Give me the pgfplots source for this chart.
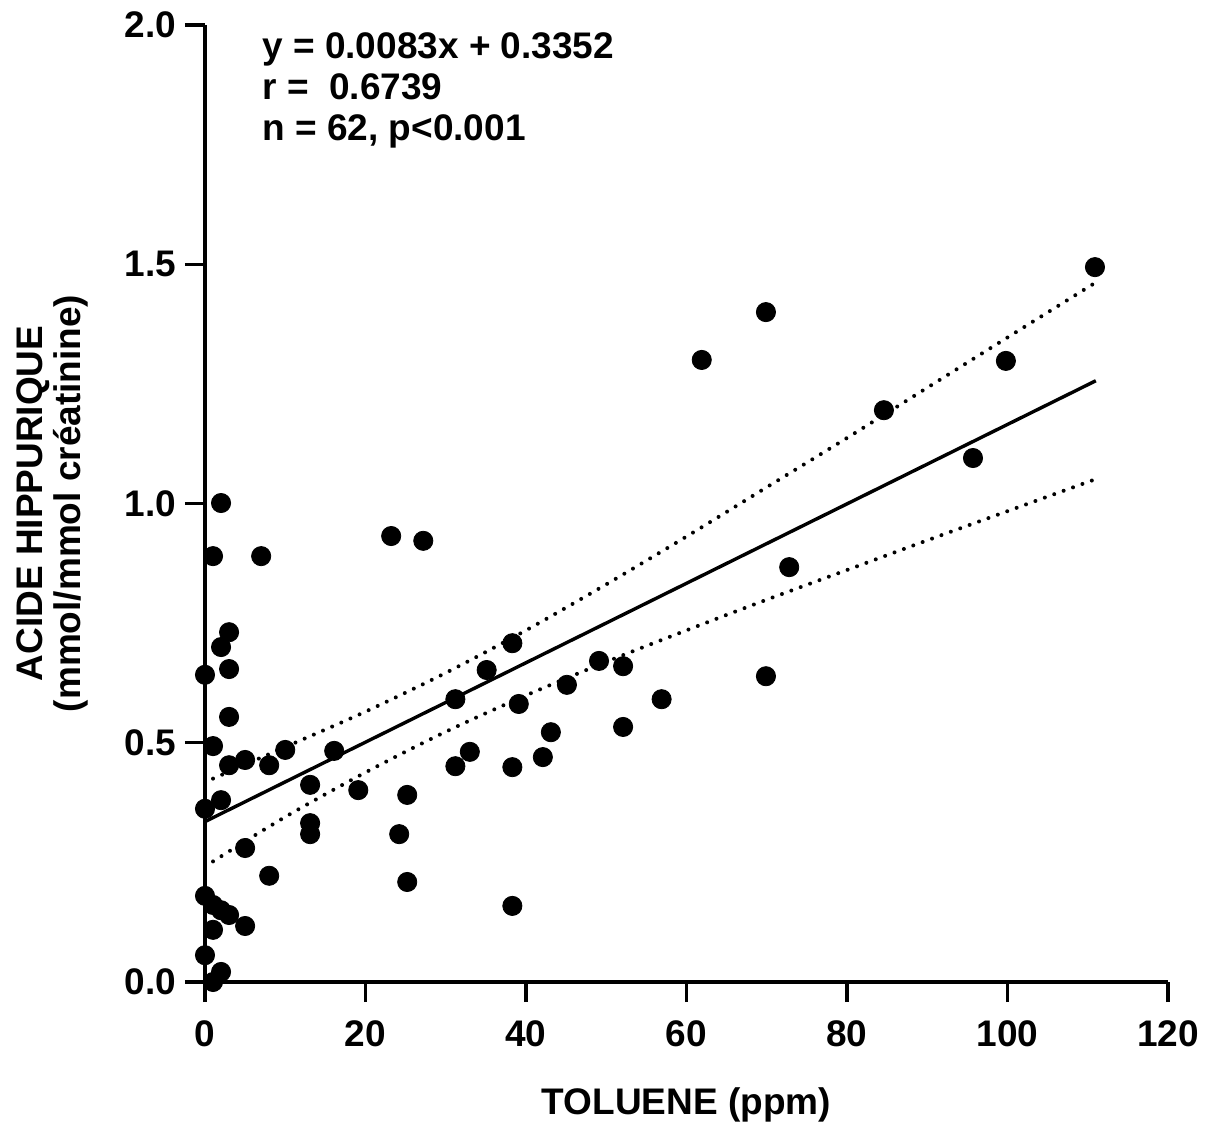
\documentclass[border=0pt]{standalone}
\usepackage{fontspec}
\setmainfont{Liberation Sans}
\usepackage{pgfplots}
\pgfplotsset{compat=1.18}
\usetikzlibrary{calc}

\begin{document}
\begin{tikzpicture}
\begin{axis}[
  scale only axis,
  width=481.5pt, height=478.5pt,
  xmin=0, xmax=120, ymin=0, ymax=2,
  xtick={0,20,...,120},
  ytick={0,0.5,...,2},
  axis x line=bottom, axis y line=left,
  axis line style={-, line width=1.6pt},
  tick style={line width=1.6pt, black},
  major tick length=10pt,
  tick align=outside,
  every tick label/.append style={font=\fontsize{18.5}{20}\selectfont\bfseries},
  /pgf/number format/assume math mode=true,
  yticklabel style={/pgf/number format/fixed, /pgf/number format/fixed zerofill, /pgf/number format/precision=1, xshift=-1pt},
  xticklabel style={yshift=-6pt},
  xlabel={TOLUENE (ppm)},
  every axis x label/.style={at={(axis description cs:0.5,-0.1285)}, anchor=center, font=\fontsize{18.5}{20}\selectfont\bfseries},
  ylabel={ACIDE HIPPURIQUE\\(mmol/mmol créatinine)},
  every axis y label/.style={at={(axis description cs:-0.158,0.5)}, rotate=90, anchor=center, align=center, font=\fontsize{18.5}{19}\selectfont\bfseries},
  clip=false,
]
% regression line
\addplot[black, line width=1.7pt] coordinates {(0,0.3352) (111,1.2565)};
% confidence limits
\addplot[black, line width=2pt, dash pattern=on 0pt off 5pt, line cap=round, smooth] coordinates {
  (1,0.425) (10,0.491) (20,0.565) (30,0.646) (40,0.735) (50,0.831) (60,0.931)
  (70,1.034) (80,1.137) (90,1.242) (100,1.347) (111,1.462)};
\addplot[black, line width=2pt, dash pattern=on 0pt off 5pt, line cap=round, smooth] coordinates {
  (1,0.252) (10,0.345) (20,0.438) (30,0.523) (40,0.599) (50,0.669) (60,0.735)
  (70,0.799) (80,0.861) (90,0.923) (100,0.984) (111,1.051)};
% data
\addplot[only marks, mark=*, mark size=4.8pt, black] coordinates {
  (110.9,1.494) (69.9,1.400) (61.9,1.300) (99.8,1.298) (84.6,1.195) (95.7,1.095)
  (72.8,0.867) (69.9,0.639) (56.9,0.591) (52.1,0.533) (52.1,0.660) (49.1,0.671)
  (45.1,0.621) (43.1,0.522) (42.1,0.470) (38.3,0.708) (39.1,0.581) (38.3,0.449)
  (38.3,0.159) (35.1,0.652) (33.0,0.481) (31.2,0.591) (31.2,0.451) (27.2,0.922)
  (23.2,0.932) (25.2,0.391) (24.2,0.309) (25.2,0.209) (19.1,0.401) (16.1,0.483)
  (13.1,0.412) (13.1,0.332) (13.1,0.309) (10.0,0.485) (8.0,0.453) (8.0,0.222)
  (7.0,0.890) (5.0,0.464) (5.0,0.280) (5.0,0.117) (3.0,0.731) (3.0,0.654)
  (3.0,0.554) (3.0,0.453) (2.0,0.700) (2.0,1.001) (1.0,0.890) (1.0,0.493)
  (2.0,0.380) (0,0.642) (0,0.362) (0,0.180) (0,0.056) (1,0.161) (2,0.150)
  (3,0.140) (1,0.109) (2,0.021) (1,0.0)
};
\node[anchor=north west, align=left, inner sep=0pt, font=\fontsize{18.5}{20.5}\selectfont\bfseries]
  at (axis cs:7.1,1.985) {y = 0.0083x + 0.3352\\r =\ \ 0.6739\\n = 62, p<0.001};
\coordinate (sw) at (rel axis cs:0,0);
\coordinate (ne) at (rel axis cs:1,1);
\end{axis}
\pgfresetboundingbox
\path[use as bounding box] ($(sw)+(-102.5pt,-79.5pt)$) rectangle ($(ne)+(19pt,12.5pt)$);
\end{tikzpicture}
\end{document}
